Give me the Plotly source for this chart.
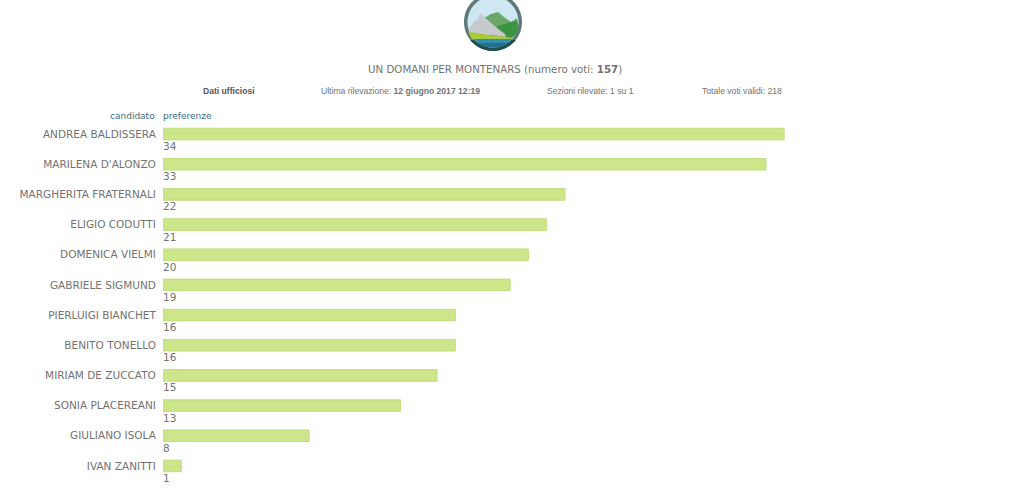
import math
import plotly.graph_objects as go

candidates = ["ANDREA BALDISSERA", "MARILENA D'ALONZO", "MARGHERITA FRATERNALI", "ELIGIO CODUTTI",
              "DOMENICA VIELMI", "GABRIELE SIGMUND", "PIERLUIGI BIANCHET", "BENITO TONELLO",
              "MIRIAM DE ZUCCATO", "SONIA PLACEREANI", "GIULIANO ISOLA", "IVAN ZANITTI"]
preferenze = [34, 33, 22, 21, 20, 19, 16, 16, 15, 13, 8, 1]

W, H = 1024, 488
L, R, T, B = 163, 0, 119, 7
FONT = "DejaVu Sans"
ARIAL = "Liberation Sans"
GREY = "#727272"
BLUE = "#3a6a85"


def px(x):
    return (x - L) / (W - L - R)


def py(y):
    return 1 - (y - T) / (H - T - B)


fig = go.Figure(go.Bar(
    y=candidates, x=preferenze, orientation="h", width=0.385,
    marker=dict(color="#cde68a", line=dict(color="#c2dc80", width=1)),
    hoverinfo="x+y",
))

for c, v in zip(candidates, preferenze):
    fig.add_annotation(x=0, y=c, text=str(v), showarrow=False, xanchor="left", yanchor="middle",
                       yshift=-12, xshift=-2, font=dict(family=FONT, size=10.5, color=GREY))


def note(x, y, text, anchor="center", size=9, color=GREY, family=ARIAL):
    fig.add_annotation(xref="paper", yref="paper", x=px(x), y=py(y), text=text, showarrow=False,
                       xanchor=anchor, yanchor="middle", xshift=0,
                       font=dict(family=family, size=size, color=color))


note(495, 69, "UN DOMANI PER MONTENARS (numero voti: <b>157</b>)", size=10.25, family=FONT)
note(228.5, 91, "<b>Dati ufficiosi</b>", size=8.6, color="#555555")
note(400.5, 91, "Ultima rilevazione: <b>12 giugno 2017 12:19</b>", size=8.6)
note(590.5, 91, "Sezioni rilevate: 1 su 1", size=8.6)
note(742, 91, "Totale voti validi: 218", size=8.6)
note(157, 115.5, "candidato", anchor="right", size=9, color=BLUE, family=FONT)
note(161, 115.5, "preferenze", anchor="left", size=9, color=BLUE, family=FONT)

# Logo, decorative
CX, CY, RAD = 493, 22, 29


def poly(points, color):
    d = "M" + " L".join(f"{px(x):.5f},{py(y):.5f}" for x, y in points) + " Z"
    fig.add_shape(type="path", xref="paper", yref="paper", path=d,
                  fillcolor=color, line=dict(width=0), layer="above")


def disc(r, color, y_top=None):
    pts = []
    for i in range(121):
        a = 2 * math.pi * i / 120
        x, y = CX + r * math.cos(a), CY + r * math.sin(a)
        if y_top is not None and y < y_top:
            y = y_top
            x = CX + math.copysign(math.sqrt(max(r * r - (y_top - CY) ** 2, 0)), math.cos(a))
        pts.append((x, y))
    poly(pts, color)


disc(RAD, "#5d7a78")
disc(RAD, "#1f4f4f", y_top=40)
disc(25.5, "#cfe7f2")
poly([(484, 18), (491, 14), (498, 12), (504, 17), (511, 22), (517, 18), (518.5, 26), (517, 33), (511, 39), (490, 38)], "#6aa86a")
poly([(497, 26), (505, 24), (511, 22), (517, 21), (518.5, 27), (517, 33), (511, 39), (500, 36)], "#3c9440")
poly([(469, 29), (474, 22), (479, 18), (480, 13), (484, 17), (490, 22), (497, 28), (505, 34), (506, 37), (478, 33), (470, 33)], "#c6cace")
poly([(468.5, 32), (478, 33), (490, 35), (506, 37), (513, 38), (509, 42), (477, 42), (471, 38)], "#aac93e")
disc(25.5, "#2f8db0", y_top=39)
disc(25.5, "#22708c", y_top=43)

fig.update_layout(
    width=W, height=H, margin=dict(l=L, r=R, t=T, b=B, pad=0),
    paper_bgcolor="white", plot_bgcolor="white", showlegend=False, bargap=0.6,
    xaxis=dict(range=[0, (W - L - R) / 18.27], visible=False, fixedrange=True),
    yaxis=dict(categoryorder="array", categoryarray=candidates, range=[11.5, -0.5], showgrid=False,
               zeroline=False, showline=False, ticks="outside", ticklen=4, tickcolor="rgba(0,0,0,0)",
               tickfont=dict(family=FONT, size=10.5, color=GREY), fixedrange=True),
)
fig.write_html("out.html", config={"displayModeBar": False},
               post_script="document.body.style.margin='0';document.body.style.overflow='hidden';")
